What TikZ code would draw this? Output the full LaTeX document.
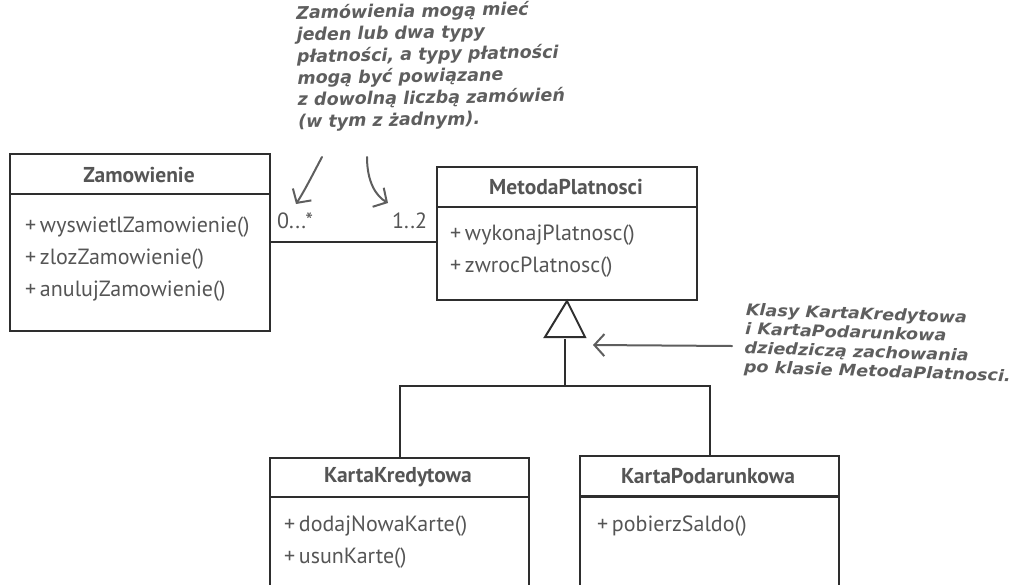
\documentclass[tikz,border=0pt]{standalone}
\usepackage{fontspec}
\setmainfont{PT Sans}
\newfontfamily\notefont{DejaVu Sans}
\newfontfamily\widenotefont[FakeStretch=1.1]{DejaVu Sans}
\usetikzlibrary{arrows.meta}
\definecolor{ink}{HTML}{2E2E2E}
\definecolor{txt}{HTML}{555555}
\definecolor{note}{HTML}{5E5E5E}

\begin{document}
\begin{tikzpicture}[x=1pt,y=-1pt,
  box/.style={draw=ink, line width=2pt, inner sep=0pt, anchor=north west},
  rule/.style={draw=ink, line width=2pt},
  title/.style={text=txt, font=\fontsize{21.5}{24}\selectfont\bfseries, inner sep=0pt},
  member/.style={text=txt, font=\fontsize{22}{25}\selectfont, anchor=west, inner sep=0pt},
  notetext/.style={text=note, font=\notefont\fontsize{17.5}{21.7}\selectfont\bfseries\itshape, align=left, inner sep=0pt, anchor=north west},
  pointer/.style={draw=note, line width=2pt, line cap=round, -{Straight Barb[length=10pt,width=22pt,line width=2pt]}}
]
\clip (0,0) rectangle (1017,584);

% class boxes
\node[box, minimum width=260pt, minimum height=177pt] (zam) at (9,153) {};
\node[box, minimum width=260pt, minimum height=133pt] (met) at (436,166) {};
\node[box, minimum width=259pt, minimum height=180pt] (kk) at (269,457) {};
\node[box, minimum width=259pt, minimum height=182pt] (kp) at (579,455) {};

% compartment dividers
\draw[rule] (9,194) -- (269,194);
\draw[rule] (436,207) -- (696,207);
\draw[rule] (269,497) -- (528,497);
\draw[rule, line width=3pt] (579,496) -- (838,496);

% class names
\node[title] (zamT) at (139,175) {Zamowienie};
\node[title] (metT) at (566,187) {MetodaPlatnosci};
\node[title] (kkT) at (398,477) {KartaKredytowa};
\node[title] (kpT) at (708,476) {KartaPodarunkowa};

% operations
\node[member] (z1) at (25,227) {+\,wyswietlZamowienie()};
\node[member] (z2) at (25,259) {+\,zlozZamowienie()};
\node[member] (z3) at (25,291) {+\,anulujZamowienie()};
\node[member] (m1) at (450,235) {+\,wykonajPlatnosc()};
\node[member] (m2) at (450,267) {+\,zwrocPlatnosc()};
\node[member] (k1) at (284,526) {+\,dodajNowaKarte()};
\node[member] (k2) at (284,558) {+\,usunKarte()};
\node[member] (p1) at (597,526) {+\,pobierzSaldo()};

% association with multiplicities
\coordinate (assoc) at (350,242);
\draw[rule] (assoc -| zam.east) -- (assoc -| met.west);
\node[member] (mulA) at (277,221) {0...*};
\node[member] (mulB) at (392,221) {1..2};

% generalisation
\draw[rule, fill=white] (met.south) -- (585,337) -- (545,337) -- cycle;
\coordinate (gen) at (565,339);
\coordinate (bus) at (565,386);
\draw[rule] (gen) -- (bus);
\draw[rule] (kk.north) |- (bus) -| (kp.north);

% notes
\node[notetext, rotate=1] (noteTop) at (296,5) {Zamówienia mogą mieć\\jeden lub dwa typy\\płatności, a typy płatności\\mogą być powiązane\\z dowolną liczbą zamówień\\(w tym z żadnym).};
\node[notetext, rotate=-2, font=\widenotefont\fontsize{16}{19}\selectfont\bfseries\itshape] (noteRight) at (746,303) {Klasy KartaKredytowa\\i KartaPodarunkowa\\dziedziczą zachowania\\po klasie MetodaPlatnosci.};

% pointers from the notes
\coordinate (p1s) at (322,157);
\coordinate (p1e) at (296,204);
\coordinate (p2s) at (367,157);
\coordinate (p2e) at (388,203);
\draw[pointer] (p1s) .. controls (314,172) and (305,190) .. (p1e);
\draw[pointer] (p2s) .. controls (367,182) and (376,196) .. (p2e);
\coordinate (p3s) at (732,346);
\coordinate (p3e) at (593,345);
\draw[pointer] (p3s) -- (p3e);
\end{tikzpicture}
\end{document}
